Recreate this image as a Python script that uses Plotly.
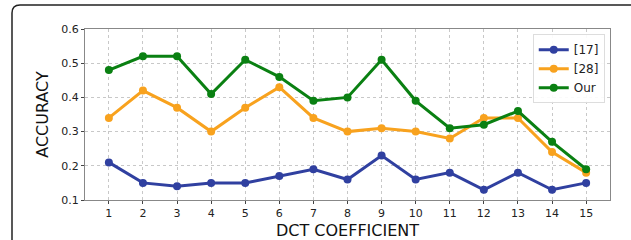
import plotly.graph_objects as go

x_vals = list(range(1, 16))
series_names = ["[17]", "[28]", "Our"]
ref17 = [0.21, 0.15, 0.14, 0.15, 0.15, 0.17, 0.19, 0.16, 0.23, 0.16, 0.18, 0.13, 0.18, 0.13, 0.15]
ref28 = [0.34, 0.42, 0.37, 0.30, 0.37, 0.43, 0.34, 0.30, 0.31, 0.30, 0.28, 0.34, 0.34, 0.24, 0.18]
our = [0.48, 0.52, 0.52, 0.41, 0.51, 0.46, 0.39, 0.40, 0.51, 0.39, 0.31, 0.32, 0.36, 0.27, 0.19]
colors = ["#3040a0", "#f8a21e", "#0a8012"]
y_ticks = [0.1, 0.2, 0.3, 0.4, 0.5, 0.6]

W, H = 631, 240
L, R, T, B = 85, 21, 29, 40
pw, ph = W - L - R, H - T - B

fig = go.Figure()
for name, vals, c in zip(series_names, [ref17, ref28, our], colors):
    fig.add_trace(go.Scatter(x=x_vals, y=vals, mode="lines+markers", name=name,
                             line=dict(color=c, width=3),
                             marker=dict(color=c, size=8)))

# outer rounded border (page frame), in screen pixels
def px_x(p):
    return (p - L) / pw
def px_y(p):
    return 1 - (p - T) / ph
x0, y0 = px_x(12), px_y(5)
x1, yb = px_x(700), px_y(300)
rx, ry = 8 / pw, 8 / ph
path = (f"M {x0} {yb} L {x0} {y0 - ry} Q {x0} {y0} {x0 + rx} {y0} L {x1} {y0}")
fig.add_shape(type="path", path=path, xref="paper", yref="paper",
              line=dict(color="#222", width=1.5), layer="above")

fig.update_layout(
    width=W, height=H,
    margin=dict(l=L, r=R, t=T, b=B, autoexpand=False),
    paper_bgcolor="white", plot_bgcolor="white",
    font=dict(family="DejaVu Sans", color="#222"),
    showlegend=True,
    legend=dict(x=0.99, y=0.97, xanchor="right", yanchor="top",
                bgcolor="rgba(255,255,255,0.9)", bordercolor="#ddd", borderwidth=1,
                font=dict(size=12, color="#222"), tracegroupgap=0,
                itemwidth=30),
)
fig.update_xaxes(range=[0.3, 15.7], tickvals=x_vals, ticktext=[str(v) for v in x_vals],
                 showgrid=True, gridcolor="#c8c8c8", griddash="dot", gridwidth=1,
                 showline=True, linecolor="#888", linewidth=1, mirror=True,
                 ticks="outside", ticklen=3, tickcolor="#444",
                 tickfont=dict(size=11, color="#222"), automargin=False,
                 title=dict(text="DCT COEFFICIENT", font=dict(size=16, color="#111"), standoff=6),
                 zeroline=False)
fig.update_yaxes(range=[0.1, 0.6], tickvals=y_ticks, ticktext=[f"{v:.1f}" for v in y_ticks],
                 showgrid=True, gridcolor="#c8c8c8", griddash="dot", gridwidth=1,
                 showline=True, linecolor="#888", linewidth=1, mirror=True,
                 ticks="outside", ticklen=3, tickcolor="#444",
                 tickfont=dict(size=11, color="#222"), automargin=False,
                 title=dict(text="ACCURACY", font=dict(size=16, color="#111"), standoff=8),
                 zeroline=False)

fig.write_html("out.html", config={"displayModeBar": False},
               post_script="document.body.style.margin='0';document.body.style.overflow='hidden';")
